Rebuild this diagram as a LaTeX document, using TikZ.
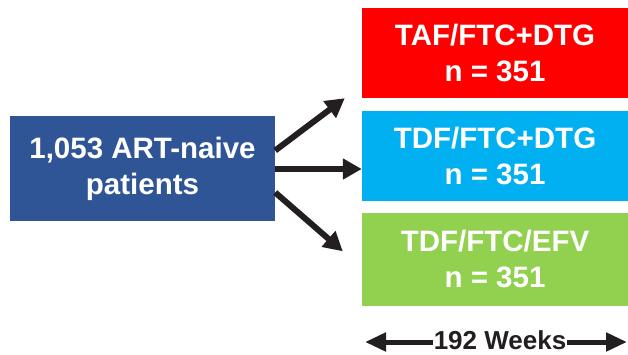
\documentclass[tikz,border=0pt]{standalone}
\usepackage{fontspec}
\setmainfont{Liberation Sans}
\usetikzlibrary{positioning, arrows.meta}
\definecolor{NavyArm}{HTML}{2F5597}
\definecolor{RedArm}{HTML}{FF0000}
\definecolor{CyanArm}{HTML}{00B0F0}
\definecolor{GreenArm}{HTML}{92D050}
\definecolor{InkDark}{HTML}{231F20}

\begin{document}
\begin{tikzpicture}[
  x=1pt, y=1pt,
  font=\fontsize{29.5}{36}\selectfont\bfseries,
  armbox/.style={fill=#1, text=white, align=center, inner sep=0pt,
                 minimum width=266pt, minimum height=90pt},
  cohort/.style={fill=NavyArm, text=white, align=center, inner sep=0pt,
                 minimum width=265pt, minimum height=105pt},
  sig/.style={-{Triangle[length=19pt, width=20pt]}, line width=6pt, draw=InkDark},
  span/.style={-{Triangle[length=21pt, width=18pt]}, line width=5pt, draw=InkDark}
]
\useasboundingbox (0,0) rectangle (628,354);

\node[cohort] (pts) at (142.5,185.5) {1,053 ART-naive\\patients};

\node[armbox=RedArm] (taf) at (495,301) {TAF/FTC+DTG\\n = 351};
\node[armbox=CyanArm, below=13pt of taf] (tdf) {TDF/FTC+DTG\\n = 351};
\node[armbox=GreenArm, below=11pt of tdf, minimum height=93pt] (efv) {TDF/FTC/EFV\\n = 351};

\draw[sig] ([yshift=18pt]pts.east) -- ([xshift=-17pt]taf.south west);
\draw[sig] ([yshift=-0.5pt]pts.east) -- ([yshift=-0.5pt]pts.east -| tdf.west);
\draw[sig] ([yshift=-24pt]pts.east) -- ([xshift=-19pt, yshift=8pt]efv.west);

% timeline under the arms
\node[font=\fontsize{26}{30}\selectfont\bfseries, text=InkDark, inner sep=1pt]
  (wk) at (500,14) {192 Weeks};
\coordinate (wkl) at (365,12);
\coordinate (wkr) at (627,12);
\draw[span] ([yshift=-2pt]wk.west) -- (wkl);
\draw[span] ([yshift=-2pt]wk.east) -- (wkr);

\end{tikzpicture}
\end{document}
